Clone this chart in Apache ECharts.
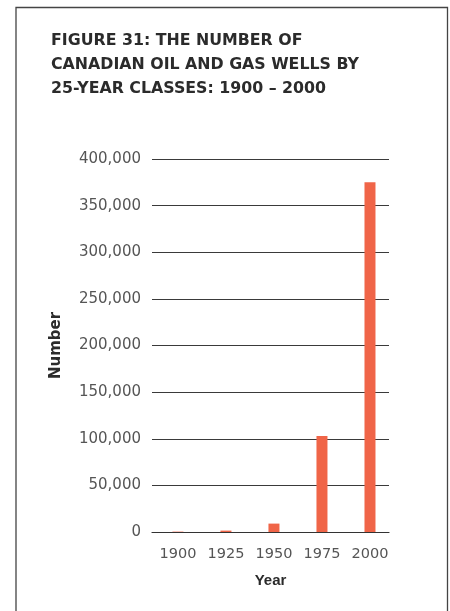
<!DOCTYPE html>
<html>
<head>
<meta charset="utf-8">
<script src="https://cdn.jsdelivr.net/npm/echarts@6/dist/echarts.min.js"></script>
<style>
  html, body { margin: 0; padding: 0; background: #fff; }
  #chart { width: 450px; height: 611px; }
</style>
</head>
<body>
<div id="chart"></div>
<script>
// Wells drilled per 25-year class
const years = [1900, 1925, 1950, 1975, 2000];
const wells = [400, 1500, 9000, 103000, 375000];
const yTicks = [0, 50000, 100000, 150000, 200000, 250000, 300000, 350000, 400000];

const titleLines = [
  'FIGURE 31: THE NUMBER OF',
  'CANADIAN OIL AND GAS WELLS BY',
  '25-YEAR CLASSES: 1900 \u2013 2000'
];

function withCommas(v) {
  return String(v).replace(/\B(?=(\d{3})+(?!\d))/g, ',');
}

const chart = echarts.init(document.getElementById('chart'), null, { renderer: 'canvas' });

chart.setOption({
  backgroundColor: '#ffffff',
  animation: false,
  title: {
    text: titleLines.join('\n'),
    left: 51,
    top: 28.5,
    padding: 0,
    textStyle: {
      fontFamily: 'DejaVu Sans',
      fontWeight: 'bold',
      fontSize: 15.8,
      lineHeight: 24,
      color: '#2b2b2b'
    }
  },
  graphic: [{
    type: 'rect',
    shape: { x: 16, y: 7.5, width: 431.5, height: 620 },
    style: { fill: 'none', stroke: '#444', lineWidth: 1.3 },
    silent: true
  }],
  grid: { left: 152, right: 61, top: 159, bottom: 79 },
  xAxis: {
    type: 'value',
    min: 1886.5,
    max: 2009.9,
    name: 'Year',
    nameLocation: 'middle',
    nameGap: 41,
    nameTextStyle: {
      fontFamily: 'Liberation Sans',
      fontWeight: 'bold',
      fontSize: 15,
      color: '#2b2b2b'
    },
    splitLine: { show: false },
    axisTick: { show: false },
    axisLine: { show: true, lineStyle: { color: '#333', width: 1.2 } },
    axisLabel: {
      customValues: years,
      formatter: v => String(v),
      margin: 15,
      fontFamily: 'DejaVu Sans',
      fontSize: 14.5,
      color: '#555'
    }
  },
  yAxis: {
    type: 'value',
    min: yTicks[0],
    max: yTicks[yTicks.length - 1],
    interval: 50000,
    name: 'Number',
    nameLocation: 'middle',
    nameRotate: 90,
    nameGap: 88,
    nameTextStyle: {
      fontFamily: 'DejaVu Sans',
      fontWeight: 'bold',
      fontSize: 15,
      color: '#2b2b2b'
    },
    axisLine: { show: false },
    axisTick: { show: false },
    axisLabel: {
      formatter: v => withCommas(v),
      margin: 11,
      fontFamily: 'DejaVu Sans',
      fontSize: 15,
      color: '#555'
    },
    splitLine: { show: true, lineStyle: { color: '#3a3a3a', width: 1.2 } }
  },
  series: [{
    type: 'bar',
    barWidth: 11,
    data: years.map((y, i) => [y, wells[i]]),
    itemStyle: { color: '#f06548' },
    z: 3
  }]
});
</script>
</body>
</html>
